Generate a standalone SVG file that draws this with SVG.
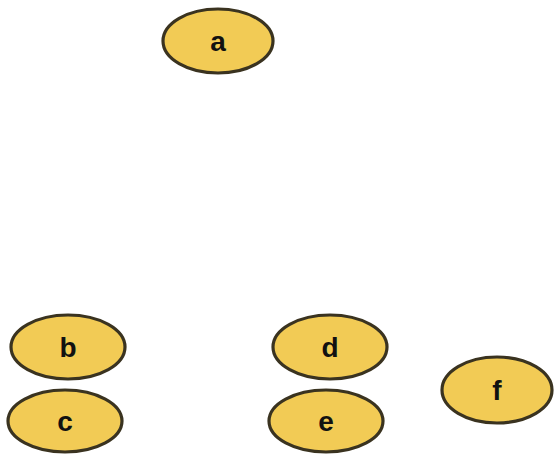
<svg xmlns="http://www.w3.org/2000/svg" width="555" height="463" viewBox="0 0 555 463">
<style>
.n ellipse{fill:#f2cb55;stroke:#3a3320;stroke-width:3.2}
.n text{font-family:"Liberation Sans",Arial,sans-serif;font-weight:bold;font-size:28px;fill:#111;text-anchor:middle;dominant-baseline:central}
</style>
<rect width="555" height="463" fill="#fff"/>
<g id="connectors"></g>
<g id="node-a" class="n"><ellipse cx="218" cy="41" rx="55" ry="32"/><text x="218" y="41">a</text></g>
<g id="node-b" class="n"><ellipse cx="68" cy="347" rx="57" ry="32"/><text x="68" y="347">b</text></g>
<g id="node-c" class="n"><ellipse cx="65" cy="421" rx="57" ry="31"/><text x="65" y="421">c</text></g>
<g id="node-d" class="n"><ellipse cx="330" cy="347" rx="57" ry="32"/><text x="330" y="347">d</text></g>
<g id="node-e" class="n"><ellipse cx="326" cy="421" rx="57" ry="31"/><text x="326" y="421">e</text></g>
<g id="node-f" class="n"><ellipse cx="497" cy="390" rx="55" ry="33"/><text x="497" y="390">f</text></g>
</svg>
